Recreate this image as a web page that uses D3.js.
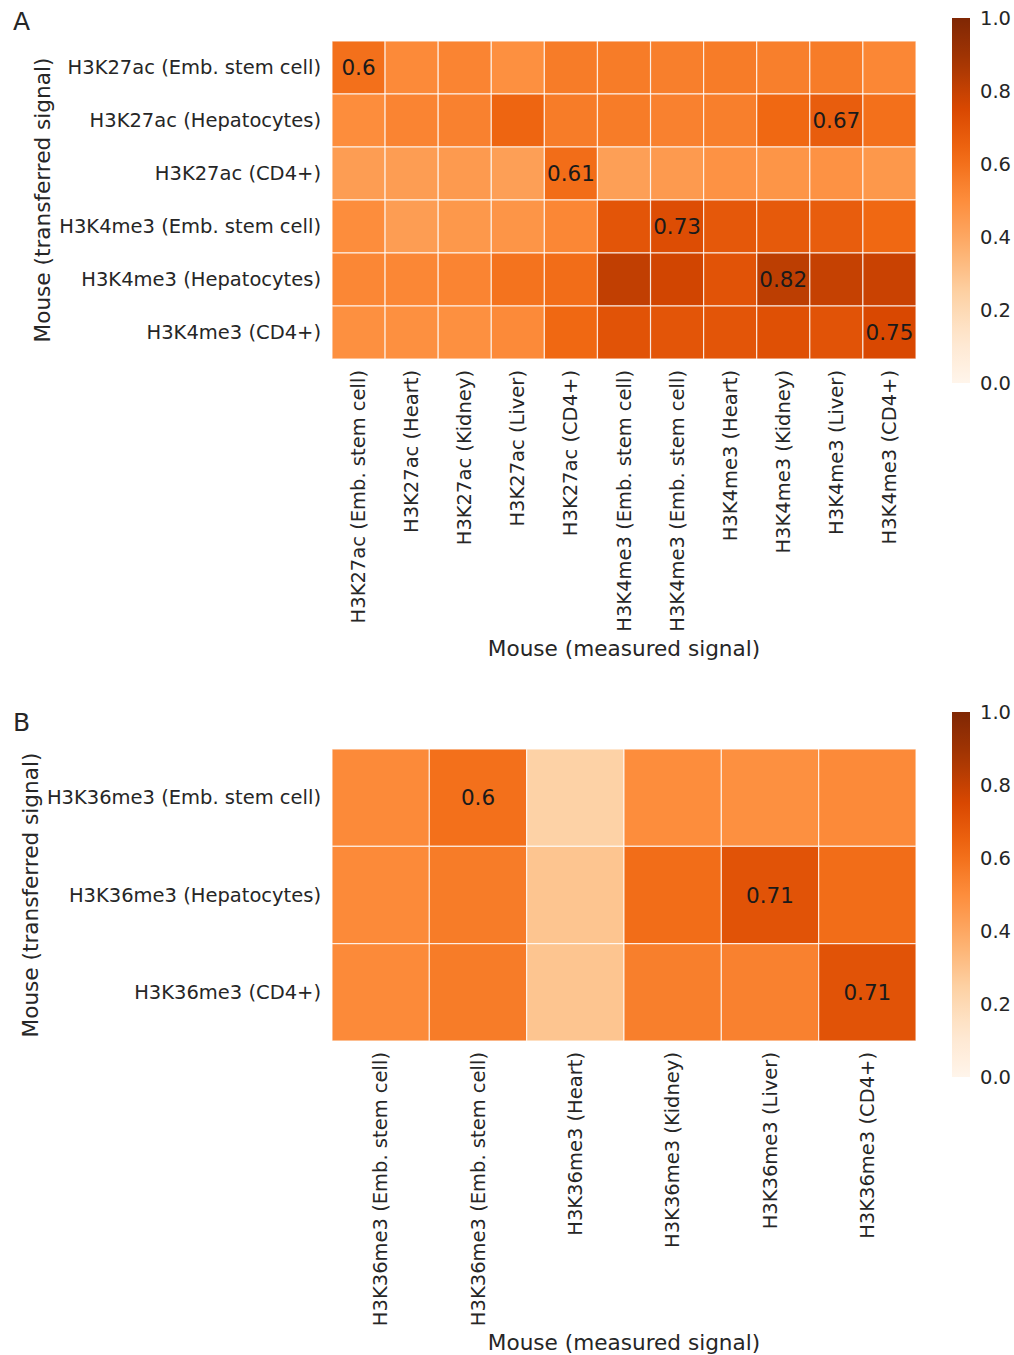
<!DOCTYPE html>
<html>
<head>
<meta charset="utf-8">
<script src="https://cdn.jsdelivr.net/npm/d3@7/dist/d3.min.js"></script>
<style>
  html, body { margin: 0; padding: 0; background: #fff; }
  svg { display: block; font-family: "DejaVu Sans", sans-serif; }
</style>
</head>
<body>
<svg id="chart" width="1014" height="1355"></svg>
<script>
// ---- Panel A: H3K27ac / H3K4me3 ----
const rowsA = [
  "H3K27ac (Emb. stem cell)",
  "H3K27ac (Hepatocytes)",
  "H3K27ac (CD4+)",
  "H3K4me3 (Emb. stem cell)",
  "H3K4me3 (Hepatocytes)",
  "H3K4me3 (CD4+)"
];
const colsA = [
  "H3K27ac (Emb. stem cell)",
  "H3K27ac (Heart)",
  "H3K27ac (Kidney)",
  "H3K27ac (Liver)",
  "H3K27ac (CD4+)",
  "H3K4me3 (Emb. stem cell)",
  "H3K4me3 (Emb. stem cell)",
  "H3K4me3 (Heart)",
  "H3K4me3 (Kidney)",
  "H3K4me3 (Liver)",
  "H3K4me3 (CD4+)"
];
const valuesA = [
  [0.60, 0.51, 0.53, 0.49, 0.56, 0.56, 0.55, 0.56, 0.55, 0.56, 0.52],
  [0.50, 0.53, 0.54, 0.64, 0.56, 0.56, 0.54, 0.55, 0.63, 0.67, 0.60],
  [0.44, 0.44, 0.45, 0.43, 0.61, 0.43, 0.45, 0.48, 0.47, 0.48, 0.46],
  [0.50, 0.44, 0.46, 0.47, 0.52, 0.70, 0.73, 0.69, 0.68, 0.67, 0.63],
  [0.52, 0.52, 0.53, 0.59, 0.61, 0.81, 0.77, 0.71, 0.82, 0.80, 0.79],
  [0.49, 0.49, 0.49, 0.51, 0.63, 0.71, 0.70, 0.70, 0.72, 0.71, 0.75]
];

// ---- Panel B: H3K36me3 ----
const rowsB = [
  "H3K36me3 (Emb. stem cell)",
  "H3K36me3 (Hepatocytes)",
  "H3K36me3 (CD4+)"
];
const colsB = [
  "H3K36me3 (Emb. stem cell)",
  "H3K36me3 (Emb. stem cell)",
  "H3K36me3 (Heart)",
  "H3K36me3 (Kidney)",
  "H3K36me3 (Liver)",
  "H3K36me3 (CD4+)"
];
const valuesB = [
  [0.51, 0.60, 0.24, 0.50, 0.49, 0.51],
  [0.51, 0.56, 0.29, 0.61, 0.71, 0.61],
  [0.51, 0.56, 0.29, 0.55, 0.54, 0.71]
];

const colorbarTicks = [0.0, 0.2, 0.4, 0.6, 0.8, 1.0];
const rowTitle = "Mouse (transferred signal)";
const colTitle = "Mouse (measured signal)";

// Sequential orange ramp (linear between the nine ColorBrewer stops)
const orangeStops = ["#fff5eb", "#fee6ce", "#fdd0a2", "#fdae6b", "#fd8d3c",
                     "#f16913", "#d94801", "#a63603", "#7f2704"];
const color = d3.scaleLinear()
  .domain(d3.range(orangeStops.length).map(i => i / (orangeStops.length - 1)))
  .range(orangeStops)
  .interpolate(d3.interpolateRgb)
  .clamp(true);

const svg = d3.select("#chart");
const textColor = "#262626";
const fontSize = 19.5;

// gradient shared by both colour bars
const defs = svg.append("defs");
const grad = defs.append("linearGradient")
  .attr("id", "cbar")
  .attr("x1", 0).attr("y1", 1).attr("x2", 0).attr("y2", 0);
d3.range(0, 1.0001, 0.05).forEach(t => {
  grad.append("stop").attr("offset", t).attr("stop-color", color(t));
});

function drawPanel(opt) {
  const g = svg.append("g");
  const x = d3.scaleBand().domain(d3.range(opt.cols.length)).range([opt.x0, opt.x1]);
  const y = d3.scaleBand().domain(d3.range(opt.rows.length)).range([opt.y0, opt.y1]);

  const cells = [];
  opt.values.forEach((row, r) => {
    const mx = d3.max(row);
    row.forEach((v, c) => cells.push({ r, c, v, label: v === mx }));
  });

  g.selectAll("rect.cell").data(cells).join("rect")
    .attr("class", "cell")
    .attr("x", d => x(d.c))
    .attr("y", d => y(d.r))
    .attr("width", x.bandwidth())
    .attr("height", y.bandwidth())
    .attr("fill", d => color(d.v))
    .attr("stroke", "#ffffff")
    .attr("stroke-opacity", 0.75)
    .attr("stroke-width", 1.2);

  // annotate the strongest cell of every row
  g.selectAll("text.val").data(cells.filter(d => d.label)).join("text")
    .attr("class", "val")
    .attr("x", d => x(d.c) + x.bandwidth() / 2)
    .attr("y", d => y(d.r) + y.bandwidth() / 2)
    .attr("text-anchor", "middle")
    .attr("dominant-baseline", "central")
    .attr("font-size", 21.5)
    .attr("fill", "#1a1a1a")
    .text(d => String(d.v));

  // row labels
  g.selectAll("text.rowlab").data(opt.rows).join("text")
    .attr("class", "rowlab")
    .attr("x", opt.x0 - 11)
    .attr("y", (d, i) => y(i) + y.bandwidth() / 2)
    .attr("text-anchor", "end")
    .attr("dominant-baseline", "central")
    .attr("font-size", fontSize)
    .attr("fill", textColor)
    .text(d => d);

  // column labels, rotated
  g.selectAll("text.collab").data(opt.cols).join("text")
    .attr("class", "collab")
    .attr("transform", (d, i) => `translate(${x(i) + x.bandwidth() / 2},${opt.y1 + 11}) rotate(-90)`)
    .attr("text-anchor", "end")
    .attr("dominant-baseline", "central")
    .attr("font-size", fontSize)
    .attr("fill", textColor)
    .text(d => d);

  // axis titles
  g.append("text")
    .attr("transform", `translate(${opt.rowTitleX},${(opt.y0 + opt.y1) / 2}) rotate(-90)`)
    .attr("text-anchor", "middle")
    .attr("dominant-baseline", "central")
    .attr("font-size", 21.6)
    .attr("fill", textColor)
    .text(rowTitle);

  g.append("text")
    .attr("x", (opt.x0 + opt.x1) / 2)
    .attr("y", opt.colTitleY)
    .attr("text-anchor", "middle")
    .attr("dominant-baseline", "central")
    .attr("font-size", 21.6)
    .attr("fill", textColor)
    .text(colTitle);

  // panel letter
  g.append("text")
    .attr("x", 13)
    .attr("y", opt.letterY)
    .attr("dominant-baseline", "central")
    .attr("font-size", 25)
    .attr("fill", textColor)
    .text(opt.letter);

  // colour bar
  const cy = d3.scaleLinear().domain([0, 1]).range([opt.cbBottom, opt.cbTop]);
  g.append("rect")
    .attr("x", 952).attr("y", cy(1))
    .attr("width", 18).attr("height", cy(0) - cy(1))
    .attr("fill", "url(#cbar)");
  const axis = d3.axisRight(cy).tickValues(colorbarTicks)
    .tickFormat(d3.format(".1f")).tickSize(0).tickPadding(10);
  const ag = g.append("g").attr("transform", "translate(970,0)").call(axis);
  ag.select(".domain").remove();
  ag.selectAll("text")
    .attr("font-size", fontSize)
    .attr("font-family", "DejaVu Sans, sans-serif")
    .attr("fill", textColor);
}

drawPanel({
  rows: rowsA, cols: colsA, values: valuesA,
  x0: 332, x1: 916, y0: 41, y1: 359,
  rowTitleX: 42, colTitleY: 648,
  letter: "A", letterY: 21,
  cbTop: 18, cbBottom: 383
});

drawPanel({
  rows: rowsB, cols: colsB, values: valuesB,
  x0: 332, x1: 916, y0: 749, y1: 1041,
  rowTitleX: 30, colTitleY: 1342,
  letter: "B", letterY: 722,
  cbTop: 712, cbBottom: 1077
});
</script>
</body>
</html>
